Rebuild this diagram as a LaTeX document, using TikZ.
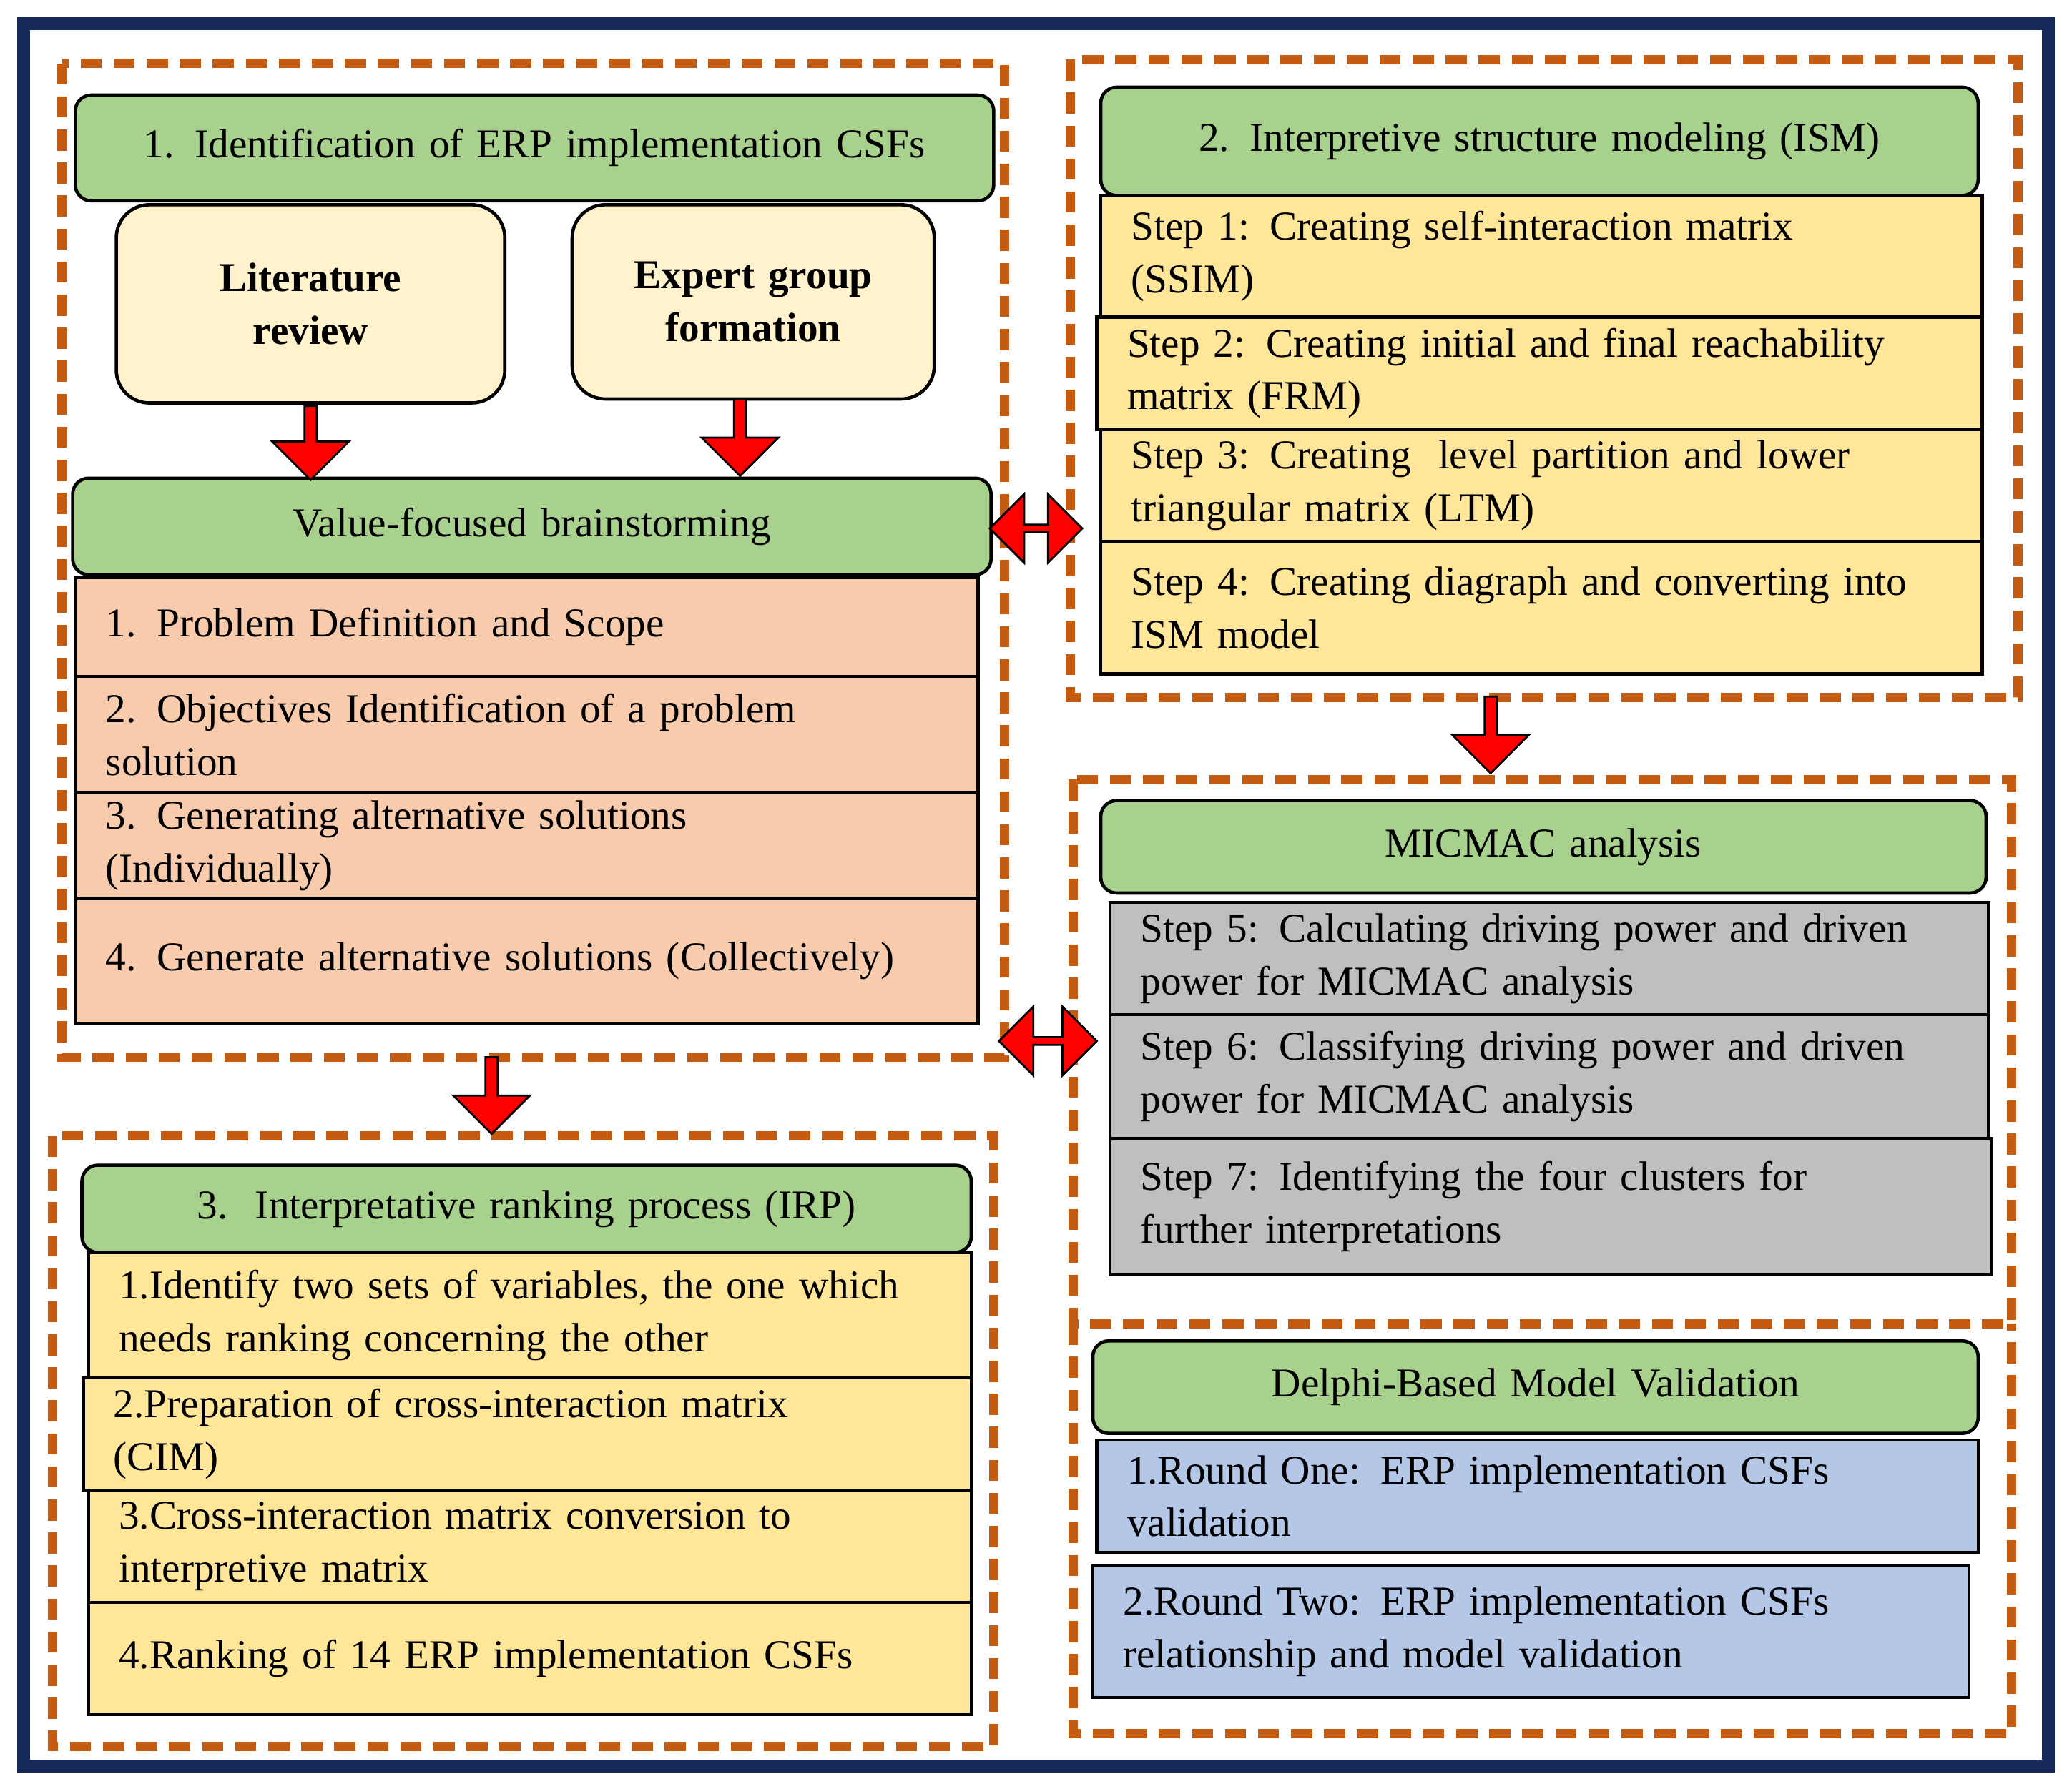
\documentclass[tikz,border=0pt]{standalone}
\usepackage{fontspec}
\setmainfont{Liberation Serif}
\newfontfamily\tnr{Liberation Serif}
\usetikzlibrary{shapes.arrows}
\definecolor{gr}{HTML}{A9D18E}
\definecolor{cr}{HTML}{FFF2CC}
\definecolor{orr}{HTML}{F8CBAD}
\definecolor{ye}{HTML}{FFE699}
\definecolor{gy}{HTML}{BFBFBF}
\definecolor{bl}{HTML}{B4C7E7}
\definecolor{dsh}{HTML}{C55A11}
\definecolor{nv}{HTML}{14285A}
\tikzset{
 base/.style={draw=black,line width=2.5pt,inner sep=0pt,font=\tnr\fontsize{31}{40}\selectfont},
 head/.style={base,fill=gr,rounded corners=12pt,align=center},
 soft/.style={base,fill=cr,rounded corners=25pt,align=center,font=\tnr\fontsize{31}{40}\selectfont\bfseries},
 cell/.style={base,align=left},
 grp/.style={draw=dsh,line width=7pt,dash pattern=on 16pt off 9pt},
 dar/.style={single arrow,draw=black,fill=red,line width=1.5pt,minimum width=58pt,single arrow head extend=4pt,single arrow tip angle=90,inner sep=0pt,rotate=-90},
 ddar/.style={double arrow,draw=black,fill=red,line width=1.5pt,minimum width=52pt,double arrow head extend=6pt,inner sep=0pt}
}
\newcommand\bx[7]{\node[#6,minimum width={(#4-#2)*1pt},minimum height={(#5-#3)*1pt},text width={(#4-#2-46)*1pt}] (#1) at ({(#2+#4)/2},{-(#3+#5)/2}) {#7};}
\begin{document}
\begin{tikzpicture}[x=1pt,y=1pt]
\useasboundingbox (0,0) rectangle (1568,-1354);
\fill[white] (0,0) rectangle (1568,-1354);
\draw[nv,line width=10pt] (18,-18) rectangle (1550,-1337);
% groups
\draw[grp] (47,-48) rectangle (760,-800);
\draw[grp] (810,-45) rectangle (1527,-528);
\draw[grp] (812,-590) rectangle (1522,-1002);
\draw[grp] (812,-1002) -- (812,-1312) -- (1522,-1312) -- (1522,-1002);
\draw[grp] (40,-860) rectangle (752,-1322);
% left top
\bx{h1}{57}{72}{752}{152}{head}{1. Identification of ERP implementation CSFs}
\bx{lit}{88}{155}{382}{305}{soft}{Literature\\review}
\bx{exp}{433}{155}{707}{302}{soft}{Expert group\\formation}
\bx{vf}{55}{362}{750}{435}{head}{Value-focused brainstorming}
\bx{o1}{57}{437}{740}{512}{cell,fill=orr}{1. Problem Definition and Scope}
\bx{o2}{57}{512}{740}{600}{cell,fill=orr}{2. Objectives Identification of a problem\\solution}
\bx{o3}{57}{600}{740}{680}{cell,fill=orr}{3. Generating alternative solutions\\(Individually)}
\bx{o4}{57}{680}{740}{775}{cell,fill=orr}{4. Generate alternative solutions (Collectively)}
% ISM
\bx{h2}{833}{66}{1497}{148}{head}{2. Interpretive structure modeling (ISM)}
\bx{s1}{833}{148}{1500}{240}{cell,fill=ye}{Step 1: Creating self-interaction matrix\\(SSIM)}
\bx{s2}{830}{240}{1500}{325}{cell,fill=ye}{Step 2: Creating initial and final reachability\\matrix (FRM)}
\bx{s3}{833}{325}{1500}{410}{cell,fill=ye}{Step 3: Creating\ \ level partition and lower\\triangular matrix (LTM)}
\bx{s4}{833}{410}{1500}{510}{cell,fill=ye}{Step 4: Creating diagraph and converting into\\ISM model}
% MICMAC
\bx{h4}{833}{606}{1503}{676}{head}{MICMAC analysis}
\bx{m5}{840}{683}{1505}{768}{cell,fill=gy}{Step 5: Calculating driving power and driven\\power for MICMAC analysis}
\bx{m6}{840}{768}{1505}{862}{cell,fill=gy}{Step 6: Classifying driving power and driven\\power for MICMAC analysis}
\bx{m7}{840}{862}{1507}{965}{cell,fill=gy}{Step 7: Identifying the four clusters for\\further interpretations}
% Delphi
\bx{h5}{827}{1015}{1497}{1085}{head}{Delphi-Based Model Validation}
\bx{d1}{830}{1090}{1497}{1175}{cell,fill=bl}{1.Round One: ERP implementation CSFs\\validation}
\bx{d2}{827}{1185}{1490}{1285}{cell,fill=bl}{2.Round Two: ERP implementation CSFs\\relationship and model validation}
% IRP
\bx{h3}{62}{882}{735}{948}{head}{3.\ \ Interpretative ranking process (IRP)}
\bx{r1}{67}{948}{735}{1043}{cell,fill=ye}{1.Identify two sets of variables, the one which\\needs ranking concerning the other}
\bx{r2}{63}{1043}{735}{1128}{cell,fill=ye}{2.Preparation of cross-interaction matrix\\(CIM)}
\bx{r3}{67}{1128}{735}{1213}{cell,fill=ye}{3.Cross-interaction matrix conversion to\\interpretive matrix}
\bx{r4}{67}{1213}{735}{1298}{cell,fill=ye}{4.Ranking of 14 ERP implementation CSFs}
% arrows
\node[dar,minimum height=56pt] (a1) at (235,-333) {};
\node[dar,minimum height=58pt] (a2) at (560,-329) {};
\node[dar,minimum height=58pt] (a3) at (1128,-554) {};
\node[dar,minimum height=58pt] (a4) at (372,-827) {};
\node[ddar,minimum height=70pt] (b1) at (784,-400) {};
\node[ddar,minimum height=74pt] (b2) at (793,-788) {};
\end{tikzpicture}
\end{document}
